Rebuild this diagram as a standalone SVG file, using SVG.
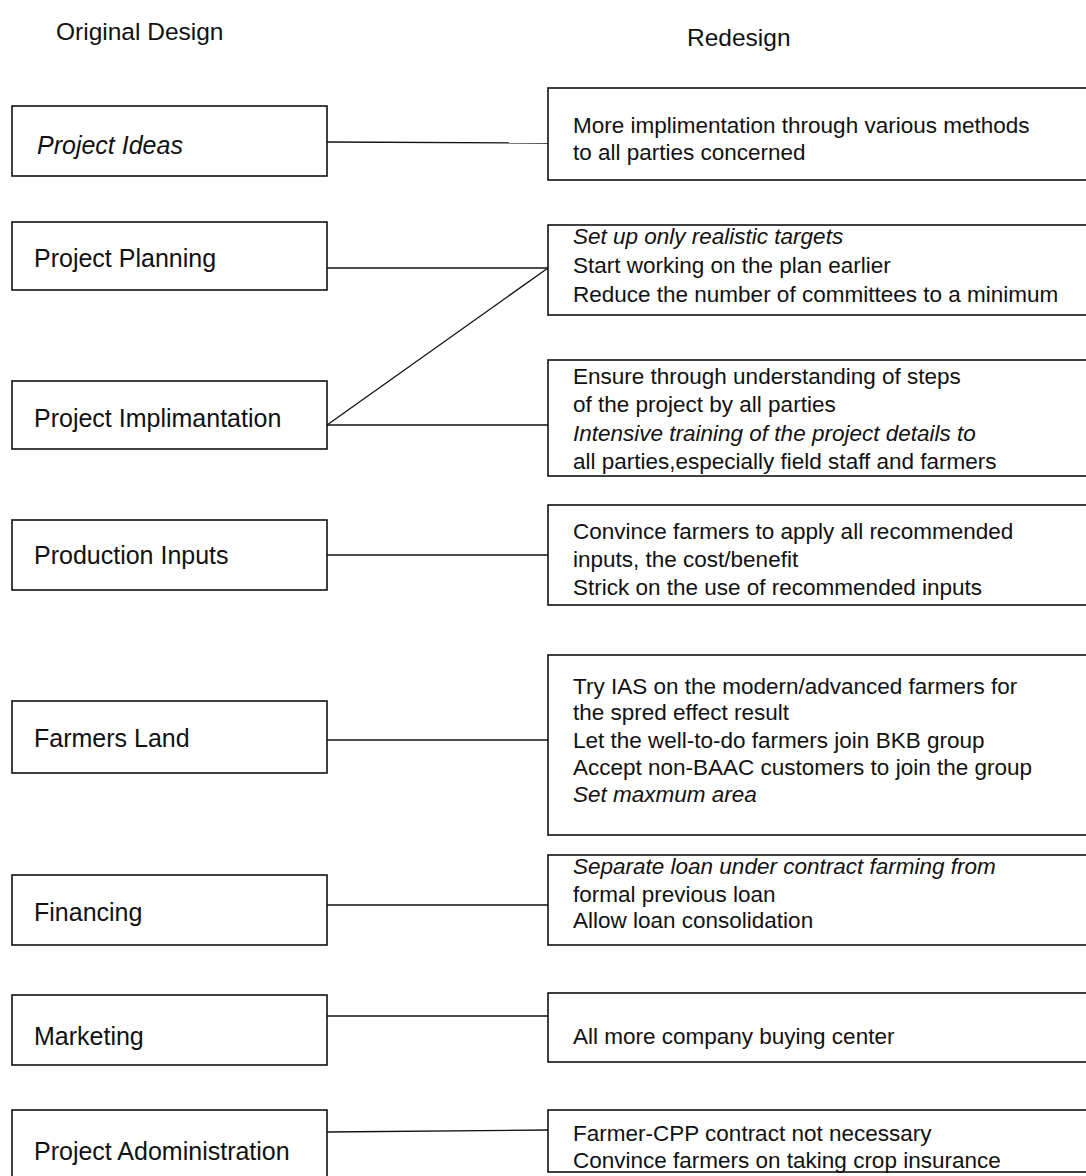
<svg xmlns="http://www.w3.org/2000/svg" width="1086" height="1176" viewBox="0 0 1086 1176">
<style>
text{font-family:"Liberation Sans",Arial,Helvetica,sans-serif;fill:#111}
.hd{font-size:24.5px}
.lt{font-size:25px}
.rt{font-size:22.5px}
.it{font-style:italic}
.box{fill:#fff;stroke:#111;stroke-width:1.6}
.con line{stroke:#111;stroke-width:1.3}
</style>
<rect width="1086" height="1176" fill="#fff"/>
<text class="hd" x="56" y="40">Original Design</text>
<text class="hd" x="687" y="46">Redesign</text>
<g class="con" id="connectors">
<line x1="327" y1="142" x2="548" y2="143"/>
<line x1="327" y1="268" x2="548" y2="268"/>
<line x1="327" y1="425" x2="548" y2="268"/>
<line x1="327" y1="425" x2="548" y2="425"/>
<line x1="327" y1="555" x2="548" y2="555"/>
<line x1="327" y1="740" x2="548" y2="740"/>
<line x1="327" y1="905" x2="548" y2="905"/>
<line x1="327" y1="1016" x2="548" y2="1016"/>
<line x1="327" y1="1132" x2="548" y2="1130"/>
</g>
<g id="o1"><rect class="box" x="12" y="106" width="315" height="70"/><text class="lt it" x="37" y="154">Project Ideas</text></g>
<g id="o2"><rect class="box" x="12" y="222" width="315" height="68"/><text class="lt" x="34" y="267">Project Planning</text></g>
<g id="o3"><rect class="box" x="12" y="381" width="315" height="68"/><text class="lt" x="34" y="427">Project Implimantation</text></g>
<g id="o4"><rect class="box" x="12" y="520" width="315" height="70"/><text class="lt" x="34" y="564">Production Inputs</text></g>
<g id="o5"><rect class="box" x="12" y="701" width="315" height="72"/><text class="lt" x="34" y="747">Farmers Land</text></g>
<g id="o6"><rect class="box" x="12" y="875" width="315" height="70"/><text class="lt" x="34" y="921">Financing</text></g>
<g id="o7"><rect class="box" x="12" y="995" width="315" height="70"/><text class="lt" x="34" y="1045">Marketing</text></g>
<g id="o8"><rect class="box" x="12" y="1110" width="315" height="80"/><text class="lt" x="34" y="1160">Project Adoministration</text></g>
<g id="r1"><rect class="box" x="548" y="88" width="560" height="92"/><text class="rt" x="573" y="133">More implimentation through various methods</text><text class="rt" x="573" y="160">to all parties concerned</text></g>
<g id="r2"><rect class="box" x="548" y="225" width="560" height="90"/><text class="rt it" x="573" y="244">Set up only realistic targets</text><text class="rt" x="573" y="273">Start working on the plan earlier</text><text class="rt" x="573" y="302">Reduce the number of committees to a minimum</text></g>
<g id="r3"><rect class="box" x="548" y="360" width="560" height="116"/><text class="rt" x="573" y="384">Ensure through understanding of steps</text><text class="rt" x="573" y="412">of the project by all parties</text><text class="rt it" x="573" y="441">Intensive training of the project details to</text><text class="rt" x="573" y="469">all parties,especially field staff and farmers</text></g>
<g id="r4"><rect class="box" x="548" y="505" width="560" height="100"/><text class="rt" x="573" y="539">Convince farmers to apply all recommended</text><text class="rt" x="573" y="567">inputs, the cost/benefit</text><text class="rt" x="573" y="595">Strick on the use of recommended inputs</text></g>
<g id="r5"><rect class="box" x="548" y="655" width="560" height="180"/><text class="rt" x="573" y="694">Try IAS on the modern/advanced farmers for</text><text class="rt" x="573" y="720">the spred effect result</text><text class="rt" x="573" y="748">Let the well-to-do farmers join BKB group</text><text class="rt" x="573" y="775">Accept non-BAAC customers to join the group</text><text class="rt it" x="573" y="802">Set maxmum area</text></g>
<g id="r6"><rect class="box" x="548" y="855" width="560" height="90"/><text class="rt it" x="573" y="874">Separate loan under contract farming from</text><text class="rt" x="573" y="902">formal previous loan</text><text class="rt" x="573" y="928">Allow loan consolidation</text></g>
<g id="r7"><rect class="box" x="548" y="993" width="560" height="69"/><text class="rt" x="573" y="1044">All more company buying center</text></g>
<g id="r8"><rect class="box" x="548" y="1110" width="560" height="62"/><text class="rt" x="573" y="1141">Farmer-CPP contract not necessary</text><text class="rt" x="573" y="1168">Convince farmers on taking crop insurance</text></g>
</svg>
